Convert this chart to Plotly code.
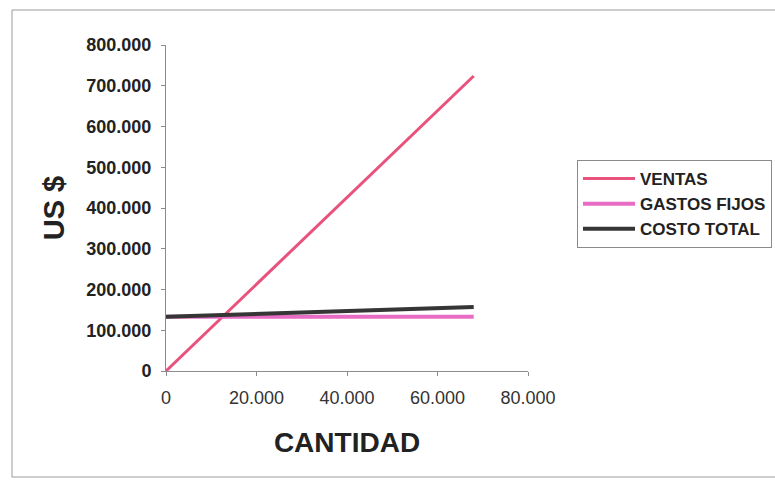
import plotly.graph_objects as go

# Break-even chart data
cantidad = [0, 68000]
ventas = [0, 724000]
gastos_fijos = [133000, 133000]
costo_total = [133000, 157000]

x_ticks = [0, 20000, 40000, 60000, 80000]
y_ticks = [0, 100000, 200000, 300000, 400000, 500000, 600000, 700000, 800000]

FONT = "Liberation Sans, Arial, sans-serif"

fig = go.Figure()
fig.add_trace(go.Scatter(x=cantidad, y=ventas, mode="lines", name="VENTAS",
                         line=dict(color="#e8527c", width=3)))
fig.add_trace(go.Scatter(x=cantidad, y=gastos_fijos, mode="lines", name="GASTOS FIJOS",
                         line=dict(color="#e86cc4", width=4)))
fig.add_trace(go.Scatter(x=cantidad, y=costo_total, mode="lines", name="COSTO TOTAL",
                         line=dict(color="#363636", width=4)))

L, R, T, B = 166, 247, 45, 110
W, H = 775, 481
pw, ph = W - L - R, H - T - B

fig.update_layout(
    width=W, height=H,
    margin=dict(l=L, r=R, t=T, b=B, pad=0, autoexpand=False),
    paper_bgcolor="white", plot_bgcolor="white",
    separators=",.",
    font=dict(family=FONT, color="#222"),
    showlegend=True,
    legend=dict(
        x=(577 - L) / pw, y=(H - B - 160) / ph, xanchor="left", yanchor="top",
        bordercolor="#8a8a8a", borderwidth=1, bgcolor="white",
        font=dict(size=17, family=FONT, color="#222", weight="bold"),
        itemwidth=52, tracegroupgap=0,
    ),
    xaxis=dict(
        range=[0, 80000], tickvals=x_ticks, tickformat=",d", automargin=False,
        showgrid=False, zeroline=False, showline=True, linecolor="#8c8c8c", linewidth=1,
        ticks="outside", ticklen=4, tickcolor="#8c8c8c", ticklabelstandoff=6,
        tickfont=dict(size=18, family=FONT, color="#333"),
        title=dict(text="CANTIDAD", font=dict(size=28, family=FONT, color="#222", weight="bold"),
                   standoff=25),
    ),
    yaxis=dict(
        range=[0, 800000], tickvals=y_ticks, tickformat=",d", automargin=False,
        showgrid=False, zeroline=False, showline=True, linecolor="#8c8c8c", linewidth=1,
        ticks="outside", ticklen=4, tickcolor="#8c8c8c", ticklabelstandoff=6,
        tickfont=dict(size=18, family=FONT, color="#222", weight="bold"),
        title=dict(text="US $", font=dict(size=29, family=FONT, color="#222", weight="bold"),
                   standoff=13),
    ),
)

# Outer chart frame
fig.add_shape(type="rect", xref="paper", yref="paper",
              x0=(12 - L) / pw, x1=(800 - L) / pw,
              y0=(H - B - 477) / ph, y1=(H - B - 10) / ph,
              line=dict(color="#9a9a9a", width=1), layer="below")

fig.write_html("out.html")
